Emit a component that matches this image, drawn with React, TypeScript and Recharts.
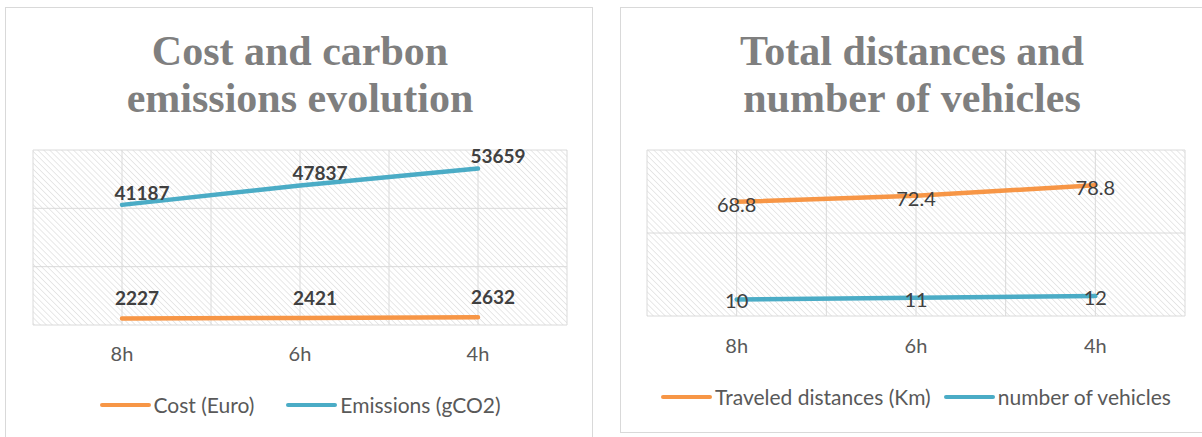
import { LineChart, Line, XAxis, YAxis, CartesianGrid, Legend, LabelList } from 'recharts';

const hours = ['8h', '6h', '4h'];
const costEuro = [2227, 2421, 2632];
const emissionsGCO2 = [41187, 47837, 53659];
const distancesKm = [68.8, 72.4, 78.8];
const vehicles = [10, 11, 12];

// half-category steps so the grid has lines at the centers and the boundaries
const xGridSteps = [-0.5, 0, 0.5, 1, 1.5, 2, 2.5];
const leftTicks = [0, 20000, 40000, 60000];
const rightTicks = [0, 50, 100];

const costData = hours.map((hour, idx) => ({ idx, hour, cost: costEuro[idx], emissions: emissionsGCO2[idx] }));
const distData = hours.map((hour, idx) => ({ idx, hour, km: distancesKm[idx], vehicles: vehicles[idx] }));

const ORANGE = '#F79646';
const BLUE = '#4BACC6';
const SANS = 'Lato, "Open Sans", sans-serif';

const titleStyle: React.CSSProperties = {
  position: 'absolute',
  top: 28,
  width: 600,
  textAlign: 'center',
  fontFamily: '"Liberation Serif", serif',
  fontWeight: 'bold',
  fontSize: 42,
  lineHeight: '47px',
  color: '#7f7f7f',
};

const hourLabel = (v: number) => (Number.isInteger(v) ? hours[v] : '');

const Hatch = ({ id }: { id: string }) => (
  <defs>
    <pattern id={id} patternUnits="userSpaceOnUse" width="4.2" height="4.2" patternTransform="rotate(-45)">
      <rect width="4.2" height="4.2" fill="#ffffff" />
      <line x1="0" y1="0" x2="0" y2="4.2" stroke="#dadada" strokeWidth="1.2" />
    </pattern>
  </defs>
);

const makeLegend = (gap: number) => (props: any) => {
  const items = props.payload || [];
  return (
    <div style={{ display: 'flex', justifyContent: 'center', gap, fontFamily: SANS, fontSize: 21, color: '#595959' }}>
      {items.map((e: any) => (
        <span key={e.value} style={{ display: 'flex', alignItems: 'center' }}>
          <span style={{ display: 'inline-block', width: 51, height: 4, borderRadius: 2, background: e.color, marginRight: 3 }} />
          {e.value}
        </span>
      ))}
    </div>
  );
};

const makeLabel = (dx: number, dy: number, bold: boolean) => (p: any) => (
  <text
    x={p.x + dx}
    y={p.y + dy}
    dy="0.35em"
    textAnchor="middle"
    fontFamily={SANS}
    fontSize={bold ? 19 : 20}
    fontWeight={bold ? 'bold' : 'normal'}
    fill="#404040"
  >
    {p.value}
  </text>
);

export default function App() {
  return (
    <div style={{ position: 'absolute', left: 0, top: 0, width: 1202, height: 437, background: '#fff', overflow: 'hidden' }}>
      <div style={{ position: 'absolute', left: 5, top: 7, width: 586, height: 440, border: '1px solid #d9d9d9' }} />
      <div style={{ position: 'absolute', left: 620, top: 7, width: 600, height: 424, border: '1px solid #d9d9d9' }} />

      <div style={{ ...titleStyle, left: 0 }}>
        Cost and carbon
        <br />
        emissions evolution
      </div>
      <div style={{ ...titleStyle, left: 612 }}>
        Total distances and
        <br />
        number of vehicles
      </div>

      <div style={{ position: 'absolute', left: 0, top: 0 }}>
        <LineChart width={600} height={437} data={costData} margin={{ top: 150, right: 33, left: 33, bottom: 82 }}>
          <Hatch id="hatchCost" />
          <CartesianGrid stroke="#dadada" fill="url(#hatchCost)" />
          <XAxis
            dataKey="idx"
            type="number"
            domain={[-0.5, 2.5]}
            ticks={xGridSteps}
            interval={0}
            tickFormatter={hourLabel}
            axisLine={false}
            tickLine={false}
            tickMargin={16}
            height={30}
            tick={{ fill: '#595959', fontFamily: SANS, fontSize: 20 }}
          />
          <YAxis hide domain={[0, 60000]} ticks={leftTicks} />
          <Legend
            layout="horizontal"
            verticalAlign="middle"
            align="center"
            content={makeLegend(32)}
            wrapperStyle={{ top: 392, left: 0, width: 600 }}
          />
          <Line dataKey="cost" name="Cost (Euro)" stroke={ORANGE} strokeWidth={4.5} strokeLinecap="round" dot={false} isAnimationActive={false}>
            <LabelList dataKey="cost" content={makeLabel(15, -20, true)} />
          </Line>
          <Line dataKey="emissions" name="Emissions (gCO2)" stroke={BLUE} strokeWidth={4.5} strokeLinecap="round" dot={false} isAnimationActive={false}>
            <LabelList dataKey="emissions" content={makeLabel(20, -12, true)} />
          </Line>
        </LineChart>
      </div>

      <div style={{ position: 'absolute', left: 616, top: 0 }}>
        <LineChart width={600} height={437} data={distData} margin={{ top: 150, right: 31, left: 31, bottom: 91 }}>
          <Hatch id="hatchDist" />
          <CartesianGrid stroke="#dadada" fill="url(#hatchDist)" />
          <XAxis
            dataKey="idx"
            type="number"
            domain={[-0.5, 2.5]}
            ticks={xGridSteps}
            interval={0}
            tickFormatter={hourLabel}
            axisLine={false}
            tickLine={false}
            tickMargin={17}
            height={30}
            tick={{ fill: '#595959', fontFamily: SANS, fontSize: 20 }}
          />
          <YAxis hide domain={[0, 100]} ticks={rightTicks} />
          <Legend
            layout="horizontal"
            verticalAlign="middle"
            align="center"
            content={makeLegend(13)}
            wrapperStyle={{ top: 384, left: 0, width: 600 }}
          />
          <Line dataKey="km" name="Traveled distances (Km)" stroke={ORANGE} strokeWidth={4.5} strokeLinecap="round" dot={false} isAnimationActive={false}>
            <LabelList dataKey="km" content={makeLabel(0, 3, false)} />
          </Line>
          <Line dataKey="vehicles" name="number of vehicles" stroke={BLUE} strokeWidth={4.5} strokeLinecap="round" dot={false} isAnimationActive={false}>
            <LabelList dataKey="vehicles" content={makeLabel(0, 2, false)} />
          </Line>
        </LineChart>
      </div>
    </div>
  );
}
